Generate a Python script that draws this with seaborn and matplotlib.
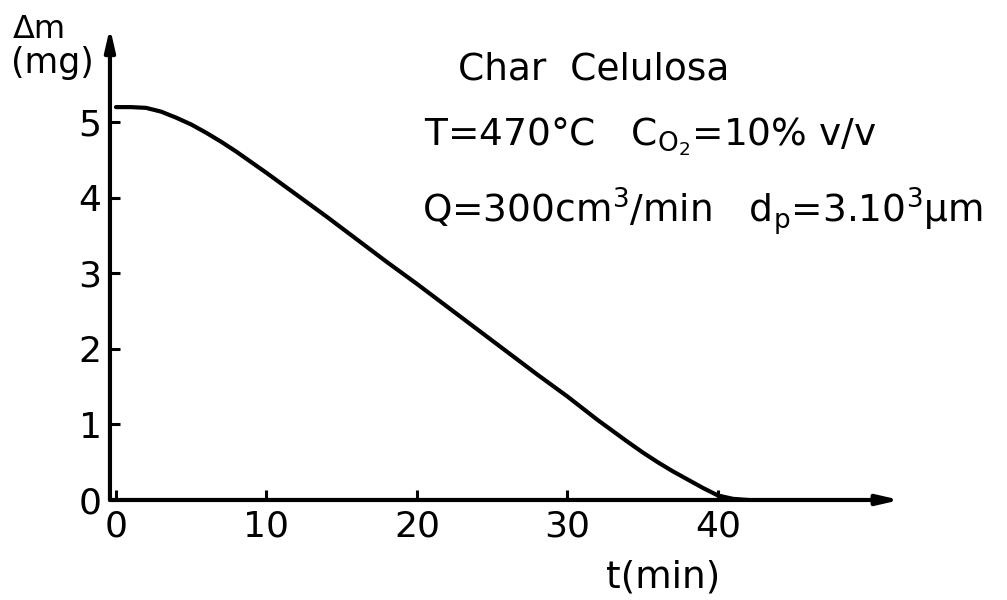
import matplotlib
matplotlib.use("Agg")
import matplotlib.pyplot as plt
import seaborn as sns
import pandas as pd

# Mass loss of cellulose char during gasification
t_min = [0, 1, 2, 3, 4, 5, 6, 7, 8, 9, 10, 12, 14, 16, 18, 20, 22, 24, 26,
         28, 30, 32, 34, 35, 36, 37, 38, 39, 40, 41, 42]
dm_mg = [5.20, 5.20, 5.19, 5.14, 5.06, 4.97, 4.86, 4.74, 4.61, 4.47, 4.33,
         4.04, 3.75, 3.45, 3.15, 2.86, 2.56, 2.26, 1.96, 1.66, 1.37, 1.06,
         0.77, 0.63, 0.50, 0.38, 0.27, 0.16, 0.06, 0.015, 0.0]
x_ticks = [0, 10, 20, 30, 40]
y_ticks = [0, 1, 2, 3, 4, 5]

sns.set_style("white")
plt.rcParams["font.family"] = ["DejaVu Sans"]
plt.rcParams["mathtext.fontset"] = "dejavusans"
plt.rcParams["text.color"] = "black"

df = pd.DataFrame({"t": t_min, "dm": dm_mg})

fig = plt.figure(figsize=(10.07, 6.0), dpi=100)
ax = fig.add_axes([0.1092, 0.1667, 0.7845, 0.787])

sns.lineplot(data=df, x="t", y="dm", ax=ax, color="black", lw=3.0)
for ln in ax.lines:
    ln.set_solid_joinstyle("round")
    ln.set_solid_capstyle("round")

xmin, xmax = -0.4, 52.1
ymin, ymax = 0.0, 6.25
ax.set_xlim(xmin, xmax)
ax.set_ylim(ymin, ymax)

for s in ax.spines.values():
    s.set_visible(False)

arrow = dict(arrowstyle="-|>,head_length=1.3,head_width=0.3", lw=3.0,
             color="black", shrinkA=0, shrinkB=0)
ax.annotate("", xy=(xmax, 0), xytext=(xmin, 0), xycoords="data",
            arrowprops=arrow, annotation_clip=False)
ax.annotate("", xy=(xmin, ymax), xytext=(xmin, 0), xycoords="data",
            arrowprops=arrow, annotation_clip=False)

ax.set_xticks(x_ticks)
ax.set_yticks(y_ticks)
ax.set_xticklabels([str(v) for v in x_ticks])
ax.set_yticklabels([str(v) for v in y_ticks])
ax.tick_params(axis="both", direction="in", length=7, width=2.2,
               color="black", labelsize=26, labelcolor="black")
ax.tick_params(axis="x", pad=7, bottom=True)
ax.tick_params(axis="y", pad=6, left=True)

ax.set_xlabel("t(min)", fontsize=27, color="black")
ax.xaxis.set_label_coords(0.7, -0.125)
ax.set_ylabel("")

fig.text(13 / 1007, 1 - 38 / 600, "Δm", fontsize=23, ha="left",
         va="baseline", color="black")
fig.text(11 / 1007, 1 - 73 / 600, "(mg)", fontsize=25, ha="left",
         va="baseline", color="black")

fig.text(458 / 1007, 1 - 80 / 600, "Char  Celulosa", fontsize=27,
         ha="left", va="baseline", color="black")
fig.text(424 / 1007, 1 - 145 / 600,
         r"T=470°C   $\mathregular{C_{O_2}}$=10% v/v", fontsize=27,
         ha="left", va="baseline", color="black")
fig.text(422 / 1007, 1 - 222 / 600,
         r"Q=300$\mathregular{cm^3}$/min   $\mathregular{d_p}$=3.10$\mathregular{^3}$μm",
         fontsize=27, ha="left", va="baseline", color="black")

fig.savefig("out.png", dpi=100, facecolor="white")
